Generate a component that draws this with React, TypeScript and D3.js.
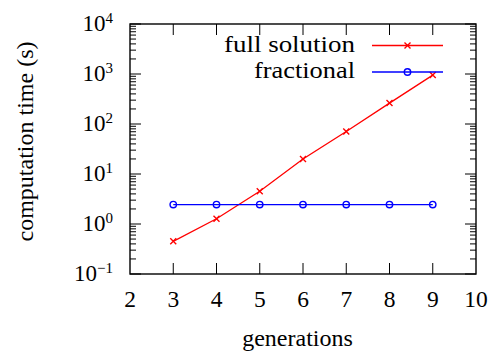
import React from "react";
import * as d3 from "d3";

const generations = [3, 4, 5, 6, 7, 8, 9];
const fullSolution = [0.45, 1.27, 4.5, 20, 71, 262, 950];
const fractional = [2.45, 2.45, 2.45, 2.45, 2.45, 2.45, 2.45];
const xTicks = [2, 3, 4, 5, 6, 7, 8, 9, 10];
const yExponents = [-1, 0, 1, 2, 3, 4];
const seriesNames = ["full solution", "fractional"];

const W = 491, H = 356;
const M = { left: 130, right: 476, top: 24, bottom: 274 };
const FONT = "'Liberation Serif', 'Times New Roman', serif";

export default function App() {
  const x = d3.scaleLinear().domain([2, 10]).range([M.left, M.right]);
  const y = d3.scaleLog().domain([0.1, 10000]).range([M.bottom, M.top]);
  const line = d3.line<number>().x((_, i) => x(generations[i])).y((d) => y(d));

  const minor: number[] = [];
  for (let e = -1; e < 4; e++) for (let k = 2; k <= 9; k++) minor.push(k * Math.pow(10, e));

  const cross = (cx: number, cy: number, key: string) => (
    <path key={key} d={`M${cx - 3},${cy - 3}L${cx + 3},${cy + 3}M${cx - 3},${cy + 3}L${cx + 3},${cy - 3}`} stroke="#ff0000" strokeWidth={1.4} fill="none" />
  );
  const circ = (cx: number, cy: number, key: string) => (
    <circle key={key} cx={cx} cy={cy} r={3.2} stroke="#0000ff" strokeWidth={1.4} fill="none" />
  );

  return (
    <svg width={W} height={H} style={{ position: "absolute", left: 0, top: 0, background: "#fff" }} fontFamily={FONT}>
      <rect x={0} y={0} width={W} height={H} fill="#fff" />
      {/* frame */}
      <rect x={M.left} y={M.top} width={M.right - M.left} height={M.bottom - M.top} fill="none" stroke="#000" strokeWidth={1.4} />
      {/* x ticks */}
      {xTicks.slice(1, -1).map((t) => (
        <g key={"xt" + t}>
          <line x1={x(t)} x2={x(t)} y1={M.bottom} y2={M.bottom - 11} stroke="#000" strokeWidth={1} />
          <line x1={x(t)} x2={x(t)} y1={M.top} y2={M.top + 11} stroke="#000" strokeWidth={1} />
        </g>
      ))}
      {xTicks.map((t) => (
        <text key={"xl" + t} x={x(t)} y={307} textAnchor="middle" fontSize={23.5}>{t}</text>
      ))}
      {/* y ticks */}
      {yExponents.map((e) => {
        const yy = y(Math.pow(10, e));
        return (
          <g key={"yt" + e}>
            <line x1={M.left} x2={M.left + 11} y1={yy} y2={yy} stroke="#000" strokeWidth={1} />
            <line x1={M.right} x2={M.right - 11} y1={yy} y2={yy} stroke="#000" strokeWidth={1} />
            <text x={113} y={yy + 7} textAnchor="end" fontSize={23}>
              10<tspan fontSize={15} dy={-8}>{e < 0 ? "\u2212" + Math.abs(e) : e}</tspan>
            </text>
          </g>
        );
      })}
      {minor.map((v, i) => (
        <g key={"mn" + i}>
          <line x1={M.left} x2={M.left + 6} y1={y(v)} y2={y(v)} stroke="#000" strokeWidth={1} />
          <line x1={M.right} x2={M.right - 6} y1={y(v)} y2={y(v)} stroke="#000" strokeWidth={1} />
        </g>
      ))}
      {/* series */}
      <path d={line(fullSolution) || ""} fill="none" stroke="#ff0000" strokeWidth={1.3} />
      {fullSolution.map((v, i) => cross(x(generations[i]), y(v), "c" + i))}
      <path d={line(fractional) || ""} fill="none" stroke="#0000ff" strokeWidth={1.3} />
      {fractional.map((v, i) => circ(x(generations[i]), y(v), "o" + i))}
      {/* legend */}
      <text x={224} y={52} fontSize={24} textLength={131} lengthAdjust="spacingAndGlyphs">{seriesNames[0]}</text>
      <line x1={372} x2={443} y1={45.5} y2={45.5} stroke="#ff0000" strokeWidth={1.3} />
      {cross(407.5, 45.5, "lc")}
      <text x={254} y={78} fontSize={24} textLength={101} lengthAdjust="spacingAndGlyphs">{seriesNames[1]}</text>
      <line x1={372} x2={443} y1={72} y2={72} stroke="#0000ff" strokeWidth={1.3} />
      {circ(407.5, 72, "lo")}
      {/* axis labels */}
      <text x={297.5} y={346} textAnchor="middle" fontSize={24}>generations</text>
      <text transform={`translate(33,141.5) rotate(-90)`} textAnchor="middle" fontSize={24}>computation time (s)</text>
    </svg>
  );
}
